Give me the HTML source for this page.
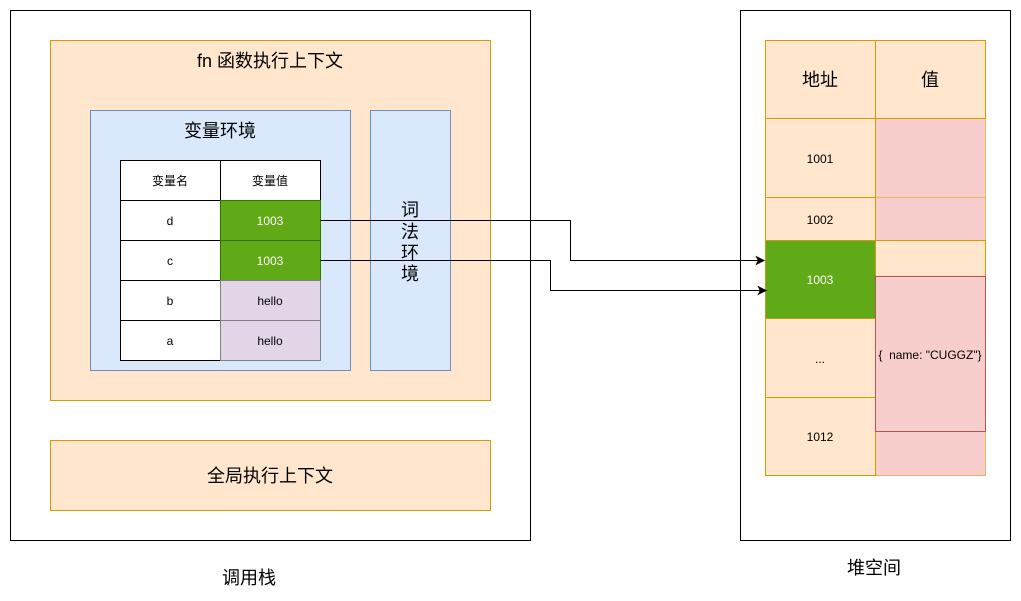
<!DOCTYPE html>
<html>
<head>
<meta charset="utf-8">
<style>
html,body{margin:0;padding:0;background:#fff;width:1021px;height:601px;overflow:hidden}
svg{display:block}
text{font-family:"Liberation Sans","Noto Sans CJK SC",sans-serif;text-anchor:middle;fill:#000}
.t12{font-size:12px}
.t18{font-size:18px}
</style>
</head>
<body>
<svg width="1021" height="601" viewBox="0 0 1021 601" xmlns="http://www.w3.org/2000/svg">
<!-- outer boxes -->
<rect x="10.5" y="10.5" width="520" height="530" fill="#fff" stroke="#000"/>
<rect x="740.5" y="10.5" width="270" height="530" fill="#fff" stroke="#000"/>

<!-- fn context -->
<rect x="50.5" y="40.5" width="440" height="360" fill="#ffe6cc" stroke="#d79b00"/>
<text x="270" y="67" class="t18">fn 函数执行上下文</text>

<!-- variable env -->
<rect x="90.5" y="110.5" width="260" height="260" fill="#dae8fc" stroke="#6c8ebf"/>
<text x="220" y="137" class="t18">变量环境</text>

<!-- lexical env -->
<rect x="370.5" y="110.5" width="80" height="260" fill="#dae8fc" stroke="#6c8ebf"/>
<text x="410" y="216" class="t18">词</text>
<text x="410" y="238" class="t18">法</text>
<text x="410" y="259" class="t18">环</text>
<text x="410" y="280" class="t18">境</text>

<!-- variable table -->
<rect x="120.5" y="160.5" width="100" height="40" fill="#fff" stroke="#000"/>
<rect x="220.5" y="160.5" width="100" height="40" fill="#fff" stroke="#000"/>
<rect x="120.5" y="200.5" width="100" height="40" fill="#fff" stroke="#000"/>
<rect x="120.5" y="240.5" width="100" height="40" fill="#fff" stroke="#000"/>
<rect x="120.5" y="280.5" width="100" height="40" fill="#fff" stroke="#000"/>
<rect x="120.5" y="320.5" width="100" height="40" fill="#fff" stroke="#000"/>
<rect x="220.5" y="200.5" width="100" height="40" fill="#60a917" stroke="#2d7600"/>
<rect x="220.5" y="240.5" width="100" height="40" fill="#60a917" stroke="#2d7600"/>
<rect x="220.5" y="280.5" width="100" height="40" fill="#e1d5e7" stroke="#808080"/>
<rect x="220.5" y="320.5" width="100" height="40" fill="#e1d5e7" stroke="#808080"/>
<text x="170" y="185" class="t12">变量名</text>
<text x="270" y="185" class="t12">变量值</text>
<text x="170" y="225" class="t12">d</text>
<text x="270" y="225" class="t12" style="fill:#fff">1003</text>
<text x="170" y="265" class="t12">c</text>
<text x="270" y="265" class="t12" style="fill:#fff">1003</text>
<text x="170" y="305" class="t12">b</text>
<text x="270" y="305" class="t12">hello</text>
<text x="170" y="345" class="t12">a</text>
<text x="270" y="345" class="t12">hello</text>

<!-- global context -->
<rect x="50.5" y="440.5" width="440" height="70" fill="#ffe6cc" stroke="#d79b00"/>
<text x="270" y="482" class="t18">全局执行上下文</text>

<text x="249" y="584" class="t18">调用栈</text>
<text x="874" y="574" class="t18">堆空间</text>

<!-- heap: value column -->
<rect x="875.5" y="118.5" width="110" height="79" fill="#f8cecc" stroke="#eab26a"/>
<rect x="875.5" y="197.5" width="110" height="43" fill="#f8cecc" stroke="#eab26a"/>
<rect x="875.5" y="240.5" width="110" height="157" fill="#ffe6cc" stroke="#d79b00"/>
<rect x="875.5" y="397.5" width="110" height="78" fill="#f8cecc" stroke="#eab26a"/>

<!-- heap: header -->
<rect x="765.5" y="40.5" width="110" height="78" fill="#ffe6cc" stroke="#d79b00"/>
<rect x="875.5" y="40.5" width="110" height="78" fill="#ffe6cc" stroke="#d79b00"/>
<text x="820" y="86" class="t18">地址</text>
<text x="930" y="86" class="t18">值</text>

<!-- heap: address column -->
<rect x="765.5" y="118.5" width="110" height="79" fill="#ffe6cc" stroke="#d79b00"/>
<rect x="765.5" y="197.5" width="110" height="43" fill="#ffe6cc" stroke="#d79b00"/>
<rect x="765.5" y="318.5" width="110" height="79" fill="#ffe6cc" stroke="#d79b00"/>
<rect x="765.5" y="397.5" width="110" height="78" fill="#ffe6cc" stroke="#d79b00"/>
<rect x="765.5" y="240.5" width="110" height="78" fill="#60a917" stroke="#c79a10"/>
<text x="820" y="163" class="t12">1001</text>
<text x="820" y="224" class="t12">1002</text>
<text x="820" y="284" class="t12" style="fill:#fff">1003</text>
<text x="820" y="363" class="t12">...</text>
<text x="820" y="441" class="t12">1012</text>

<!-- object box -->
<rect x="875.5" y="276.5" width="110" height="155" fill="#f8cecc" stroke="#b85450"/>
<text x="930" y="359" class="t12" style="white-space:pre">{  name: "CUGGZ"}</text>

<!-- connectors -->
<path d="M320.5 220.5H570.5V260.5H758" fill="none" stroke="#000"/>
<path d="M764 260.5L756.5 256.8L758.4 260.5L756.5 264.2Z" fill="#000" stroke="#000"/>
<path d="M320.5 260.5H550.5V290.5H760" fill="none" stroke="#000"/>
<path d="M766 290.5L758.5 286.8L760.4 290.5L758.5 294.2Z" fill="#000" stroke="#000"/>
</svg>
</body>
</html>
